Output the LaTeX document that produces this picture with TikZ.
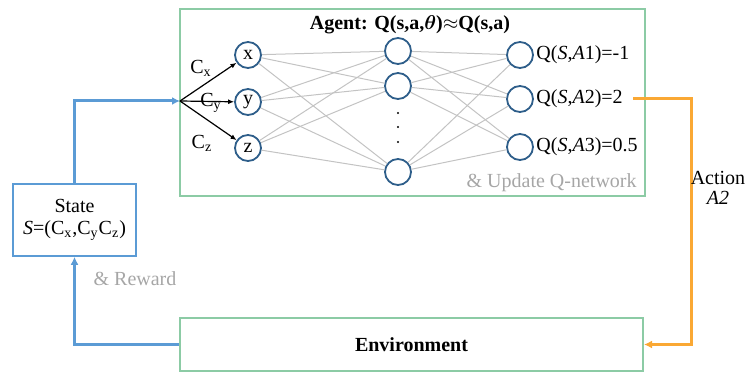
\documentclass[tikz,border=0pt]{standalone}
\usepackage{fontspec}
\setmainfont{Liberation Serif}
\usepackage{amsmath}
\usepackage{tikz}
\usetikzlibrary{calc,positioning,arrows.meta}

\definecolor{boxgreen}{RGB}{140,203,165}
\definecolor{lineblue}{RGB}{91,155,213}
\definecolor{circblue}{RGB}{46,94,138}
\definecolor{actorange}{RGB}{250,168,52}
\definecolor{notegray}{RGB}{166,166,166}
\definecolor{wiregray}{RGB}{195,195,195}

\tikzset{
	greenbox/.style={draw=boxgreen, line width=1pt, inner sep=0pt},
	neuron/.style={draw=circblue, circle, line width=0.9pt, minimum size=13pt, inner sep=0pt},
	wire/.style={draw=wiregray, line width=0.5pt},
	feed/.style={line width=1.5pt, -{Latex[length=4pt,width=4pt]}},
	inarrow/.style={line width=0.6pt, -{Latex[length=3pt,width=2.5pt]}}
}

\begin{document}
\begin{tikzpicture}[x=0.5pt,y=-0.5pt]
	\useasboundingbox (0,0) rectangle (755,373);

	% Boxes
	\node [greenbox, minimum width=232.5pt, minimum height=93.5pt] (agent) at (412.5,102.5) {};
	\node [greenbox, minimum width=231.5pt, minimum height=26.5pt] (env) at (411.5,344.5) {\textbf{Environment}};
	\node [draw=lineblue, line width=0.8pt, minimum width=61.5pt, minimum height=36pt, align=center, inner sep=0pt] (state) at (74.5,220) {State\\[-1pt]\textit{S}=(C\textsubscript{x},C\textsubscript{y}C\textsubscript{z})};

	\node (title) at (410,25) {\textbf{Agent: Q(s,a,{\boldmath$\theta$})$\approx$Q(s,a)}};

	% Input layer
	\node [neuron] (x) at (248,55) {x};
	\node [neuron] (y) at (248,102) {y};
	\node [neuron] (z) at (248,148) {z};

	% Hidden layer
	\node [neuron] (h1) at (398,51) {};
	\node [neuron] (h2) at (398,86) {};
	\node [neuron] (h3) at (398,172) {};
	\fill (398,113) circle (0.6pt) (398,127) circle (0.6pt) (398,142) circle (0.6pt);

	% Output layer
	\node [neuron] (o1) at (520,55) {};
	\node [neuron] (o2) at (520,99) {};
	\node [neuron] (o3) at (520,147) {};
	\node [anchor=west, inner sep=0pt] (q1) at (536,55) {Q(\textit{S},\textit{A}1)=-1};
	\node [anchor=west, inner sep=0pt] (q2) at (536,99) {Q(\textit{S},\textit{A}2)=2};
	\node [anchor=west, inner sep=0pt] (q3) at (536,147) {Q(\textit{S},\textit{A}3)=0.5};

	% Connections between layers
	\draw [wire] (x) -- (h1) (x) -- (h2) (x) -- (h3);
	\draw [wire] (y) -- (h1) (y) -- (h2) (y) -- (h3);
	\draw [wire] (z) -- (h1) (z) -- (h2) (z) -- (h3);
	\draw [wire] (h1) -- (o1) (h1) -- (o2) (h1) -- (o3);
	\draw [wire] (h2) -- (o1) (h2) -- (o2) (h2) -- (o3);
	\draw [wire] (h3) -- (o1) (h3) -- (o2) (h3) -- (o3);

	% State fed into the network
	\coordinate (fan) at (180,101);
	\draw [feed, draw=lineblue] (state.north) |- (fan);
	\draw [inarrow] (fan) -- (x);
	\draw [inarrow] (fan) -- (y);
	\draw [inarrow] (fan) -- (z);
	\node (cx) at (201,68) {C\textsubscript{x}};
	\node (cy) at (211,103) {C\textsubscript{y}};
	\node (cz) at (202,143) {C\textsubscript{z}};

	% Action and reward loop
	\coordinate (a2out) at (633,99);
	\coordinate (turn) at (691,99);
	\draw [feed, draw=actorange] (a2out) -- (turn) |- (env.east);
	\node [align=center] (action) at (718,188) {Action\\[-2pt]\textit{A2}};
	\draw [feed, draw=lineblue] (env.west) -| (state.south);

	% Notes in gray
	\node [text=notegray, anchor=east, inner sep=0pt] (update) at (637,183) {\& Update Q-network};
	\node [text=notegray] (reward) at (135,279) {\& Reward};
\end{tikzpicture}
\end{document}
